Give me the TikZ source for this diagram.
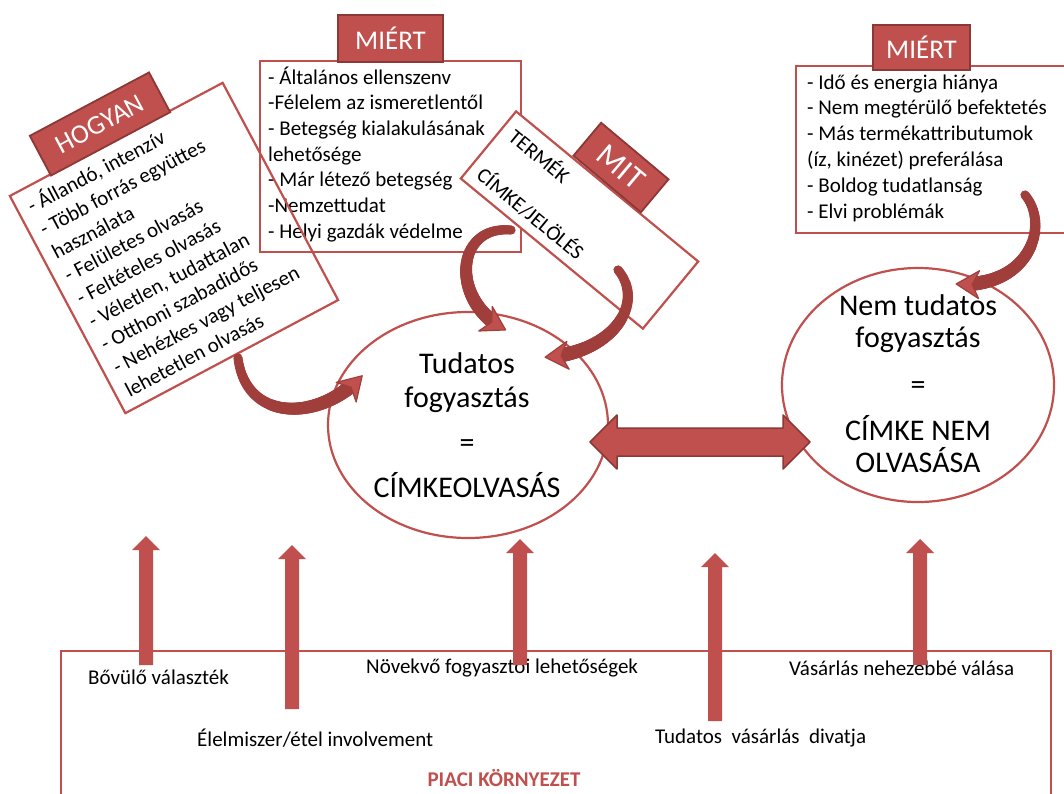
\documentclass[tikz,border=0pt]{standalone}
\usepackage{fontspec}
\setmainfont{Carlito}
\usetikzlibrary{shapes.geometric,arrows.meta,decorations.markings}
\definecolor{accent}{HTML}{C0504D}
\definecolor{accdark}{HTML}{8C3836}
\definecolor{curvred}{HTML}{A03E3B}
\newcommand\uparr[3]{%
  \fill[accent] (#1-7,#3) -- (#1-7,#2+14) -- (#1-14,#2+14) -- (#1,#2) -- (#1+14,#2+14) -- (#1+7,#2+14) -- (#1+7,#3) -- cycle;}
\begin{document}
\begin{tikzpicture}[x=1pt,y=-1pt,
  frame/.style={draw=accent,line width=2.2pt,inner sep=0pt},
  tab/.style={fill=accent,draw=accdark,line width=1.8pt,text=white,inner sep=0pt,font=\fontsize{27}{30}\selectfont},
  listtxt/.style={font=\fontsize{21}{25.7}\selectfont,inner sep=0pt,anchor=base west},
  bigtxt/.style={font=\fontsize{30}{34}\selectfont,inner sep=0pt,anchor=base},
  lbl/.style={font=\fontsize{21}{25}\selectfont,inner sep=0pt,anchor=west},
  ribbon/.style={decorate,decoration={markings,
    mark=between positions 0 and 0.9 step 0.01 with {\fill[curvred] (0,0) circle ({4.6+0.028*\pgfkeysvalueof{/pgf/decoration/mark info/sequence number}});},
    mark=at position 0.99 with {\filldraw[fill=accent,draw=curvred,line width=1.2pt,line join=round] (3,0) -- (-20,14) -- (-13,0) -- (-20,-14) -- cycle;}}}
]
\useasboundingbox (0,0) rectangle (1064,793);
\fill[white] (0,0) rectangle (1064,793);

% market environment frame
\node[frame,anchor=north west,minimum width=990,minimum height=220] (market) at (60,650) {};
\node[font=\fontsize{21}{25}\selectfont\bfseries,text=accent,inner sep=0pt] (marketlbl) at (504,778) {PIACI KÖRNYEZET};
\node[lbl] (f1) at (88,677) {Bővülő választék};
\node[lbl] (f2) at (197,738) {Élelmiszer/étel involvement};
\node[lbl] (f3) at (366,668) {Növekvő fogyasztói lehetőségek};
\node[lbl] (f4) at (655,738) {Tudatos\ \ vásárlás\ \ divatja};
\node[lbl] (f5) at (789,668) {Vásárlás nehezebbé válása};

% up arrows
\uparr{146}{536}{665}
\uparr{292}{545}{709}
\uparr{520}{539}{665}
\uparr{715}{553}{721}
\uparr{920}{539}{665}

% middle MIERT box
\node[frame,anchor=north west,minimum width=261,minimum height=191] (whybox) at (259,60) {};
\foreach \t [count=\i] in {{- Általános ellenszenv},{-Félelem az ismeretlentől},{- Betegség kialakulásának},{lehetősége},{- Már létező betegség},{-Nemzettudat},{- Helyi gazdák védelme}}
  \node[listtxt] (why\i) at (268,{84+25.7*(\i-1)}) {\t};
\node[tab,minimum width=105,minimum height=47] (whytab) at (390.5,38.5) {MIÉRT};

% MIT box
\node[frame,fill=white,rotate=-39.5,minimum width=236,minimum height=87] (whatbox) at (579.5,220) {};
\begin{scope}[shift={(507,139)},rotate=-39.5]
  \node[listtxt,transform shape] (whatA) at (0,0) {TERMÉK};
  \node[listtxt,transform shape] (whatB) at (0,50) {CÍMKE/JELÖLÉS};
\end{scope}
\node[tab,rotate=-40,minimum width=88,minimum height=43,font=\fontsize{32}{34}\selectfont] (whattab) at (621,167.5) {MIT};

% HOGYAN box
\node[frame,rotate=28,minimum width=241,minimum height=246] (howbox) at (174,248) {};
\begin{scope}[shift={(32,214)},rotate=28]
\foreach \t [count=\i] in {{- Állandó, intenzív},{- Több forrás együttes},{használata},{- Felületes olvasás},{- Feltételes olvasás},{- Véletlen, tudattalan},{- Otthoni szabadidős},{- Nehézkes vagy teljesen},{lehetetlen olvasás}}
  \node[listtxt,transform shape] (how\i) at (0,{26*(\i-1)}) {\t};
\end{scope}
\node[tab,rotate=28,minimum width=135,minimum height=45] (howtab) at (100,124) {HOGYAN};

% right MIERT box
\node[frame,anchor=north west,minimum width=275,minimum height=167] (whybtwo) at (795,65) {};
\foreach \t [count=\i] in {{- Idő és energia hiánya},{- Nem megtérülő befektetés},{- Más termékattributumok},{(íz, kinézet) preferálása},{- Boldog tudatlanság},{- Elvi problémák}}
  \node[listtxt] (whyb\i) at (807,{89+25.8*(\i-1)}) {\t};
\node[tab,minimum width=97,minimum height=45] (whybtab) at (921.5,47.5) {MIÉRT};

% ellipses
\node[ellipse,frame,fill=white,minimum width=280,minimum height=226] (tud) at (468,425) {};
\node[bigtxt] (tud1) at (467,373) {Tudatos};
\node[bigtxt] (tud2) at (467,407) {fogyasztás};
\node[bigtxt] (tud3) at (467,452) {=};
\node[bigtxt] (tud4) at (467,497) {CÍMKEOLVASÁS};

\node[ellipse,frame,fill=white,minimum width=272,minimum height=234] (nem) at (918,385) {};
\node[bigtxt] (nem1) at (918,315) {Nem tudatos};
\node[bigtxt] (nem2) at (918,347) {fogyasztás};
\node[bigtxt] (nem3) at (918,394) {=};
\node[bigtxt] (nem4) at (918,440) {CÍMKE NEM};
\node[bigtxt] (nem5) at (918,472) {OLVASÁSA};

% double arrow
\coordinate (dl) at (590,442);
\coordinate (dr) at (810,442);
\filldraw[fill=accent,draw=accdark,line width=1.5pt,line join=round]
  (dl) -- (617,415) -- (617,428) -- (783,428) -- (783,415) -- (dr) -- (783,469) -- (783,456) -- (617,456) -- (617,469) -- cycle;

% curved arrows
\coordinate (hs) at (238,358); \coordinate (he) at (361,377);
\path[ribbon] (hs) .. controls (246,422) and (318,422) .. (he);
\coordinate (ms) at (511,230); \coordinate (me) at (504,329);
\path[ribbon] (ms) .. controls (455,225) and (450,300) .. (me);
\coordinate (ts) at (618,270); \coordinate (te) at (547,357);
\path[ribbon] (ts) .. controls (645,302) and (615,352) .. (te);
\coordinate (rs) at (1025,195); \coordinate (re) at (958,284);
\path[ribbon] (rs) .. controls (1050,225) and (1030,287) .. (re);
\end{tikzpicture}
\end{document}
